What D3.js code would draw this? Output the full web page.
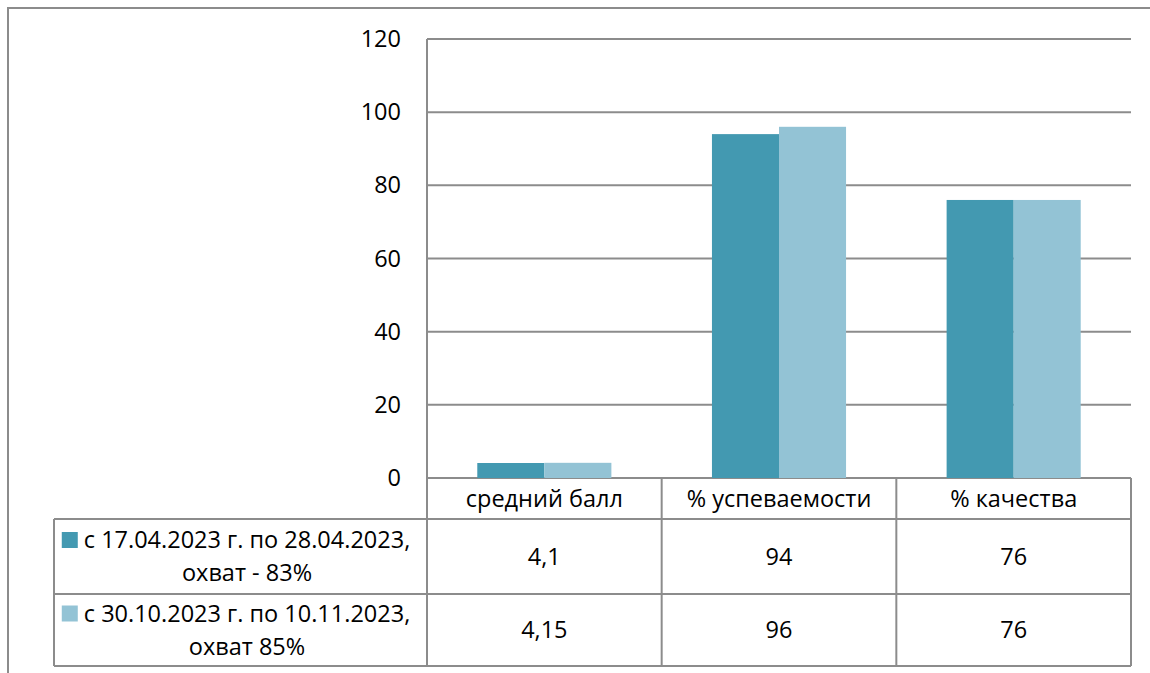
<!DOCTYPE html>
<html>
<head>
<meta charset="utf-8">
<script src="https://cdn.jsdelivr.net/npm/d3@7"></script>
<style>
  html, body { margin: 0; padding: 0; background: #fff; }
  svg { display: block; }
  text { font-family: "Open Sans", "Noto Sans", sans-serif; fill: #000; }
</style>
</head>
<body>
<svg id="chart" width="1150" height="673"></svg>
<script>
// ---- data ----
const categories = ["средний балл", "% успеваемости", "% качества"];
const seriesNames = [
  ["с 17.04.2023 г. по 28.04.2023,", "охват - 83%"],
  ["с 30.10.2023 г. по 10.11.2023,", "охват 85%"]
];
const series1 = [4.1, 94, 76];
const series2 = [4.15, 96, 76];
const yTicks = [0, 20, 40, 60, 80, 100, 120];
const colors = ["#4399B1", "#93C3D5"];

const seriesValues = [series1, series2];
const fmt = d3.formatLocale({decimal: ",", thousands: " ", grouping: [3], currency: ["", ""]}).format("~g");

// ---- layout ----
const svg = d3.select("#chart");
const plotLeft = 427, plotRight = 1131, plotTop = 39, plotBottom = 478;
const tableLeft = 54;
const rowBounds = [478, 519, 594, 666];
const lineColor = "#8c8c8c";
const fontSize = 23.5;

// outer frame
svg.append("path")
  .attr("d", `M8,680 L8,8 L1160,8`)
  .attr("fill", "none").attr("stroke", "#8c8c8c").attr("stroke-width", 2);

const x = d3.scaleBand().domain(categories).range([plotLeft, plotRight]).paddingInner(0).paddingOuter(0);
const y = d3.scaleLinear().domain([0, 120]).range([plotBottom, plotTop]);
// bar width = band/3.5 (gap width 150%)
const barW = x.bandwidth() / 3.5;
const xsub = i => x.bandwidth() / 2 - barW + i * barW;

// gridlines
svg.append("g").selectAll("line").data(yTicks).join("line")
  .attr("x1", plotLeft).attr("x2", plotRight)
  .attr("y1", d => y(d)).attr("y2", d => y(d))
  .attr("stroke", lineColor).attr("stroke-width", 2);

// y axis tick labels
const yAxis = d3.axisLeft(y).tickValues(yTicks).tickSize(0).tickPadding(26);
const ya = svg.append("g").attr("transform", `translate(${plotLeft},0)`).call(yAxis);
ya.select(".domain").remove();
ya.selectAll("text").attr("font-size", fontSize).attr("font-family", "'Open Sans', sans-serif").attr("fill", "#000");

// bars
seriesValues.forEach((vals, si) => {
  svg.append("g").selectAll("rect").data(vals).join("rect")
    .attr("x", (d, i) => x(categories[i]) + xsub(si))
    .attr("width", barW)
    .attr("y", d => y(d))
    .attr("height", d => y(0) - y(d))
    .attr("fill", colors[si]);
});

// table lines
const tg = svg.append("g").attr("stroke", lineColor).attr("stroke-width", 2);
tg.append("line").attr("x1", plotLeft).attr("x2", plotLeft).attr("y1", plotTop).attr("y2", rowBounds[3]);
categories.forEach((c, i) => {
  const xr = x(c) + x.bandwidth();
  tg.append("line").attr("x1", xr).attr("x2", xr).attr("y1", rowBounds[0]).attr("y2", rowBounds[3]);
});
tg.append("line").attr("x1", tableLeft).attr("x2", tableLeft).attr("y1", rowBounds[1]).attr("y2", rowBounds[3]);
[rowBounds[1], rowBounds[2], rowBounds[3]].forEach(yy => {
  tg.append("line").attr("x1", tableLeft).attr("x2", plotRight).attr("y1", yy).attr("y2", yy);
});

// header row: categories
svg.append("g").selectAll("text").data(categories).join("text")
  .attr("x", d => x(d) + x.bandwidth() / 2)
  .attr("y", (rowBounds[0] + rowBounds[1]) / 2)
  .attr("dy", "0.35em")
  .attr("text-anchor", "middle")
  .attr("font-size", fontSize)
  .text(d => d);

// data rows
seriesValues.forEach((vals, si) => {
  const top = rowBounds[si + 1], bot = rowBounds[si + 2];
  const cy = (top + bot) / 2;
  svg.append("g").selectAll("text").data(vals).join("text")
    .attr("x", (d, i) => x(categories[i]) + x.bandwidth() / 2)
    .attr("y", cy)
    .attr("dy", "0.35em")
    .attr("text-anchor", "middle")
    .attr("font-size", fontSize)
    .text(d => fmt(d));

  const lx = 247;
  seriesNames[si].forEach((ln, li) => {
    svg.append("text")
      .attr("x", lx)
      .attr("y", cy + (li === 0 ? -16.5 : 16.5))
      .attr("dy", "0.35em")
      .attr("text-anchor", "middle")
      .attr("font-size", fontSize)
      .attr("class", "leg" + si + "_" + li)
      .text(ln);
  });
  const bb = svg.select(".leg" + si + "_0").node().getBBox();
  svg.append("rect")
    .attr("x", bb.x - 22)
    .attr("y", cy - 16.5 - 8)
    .attr("width", 16).attr("height", 16)
    .attr("fill", colors[si]);
});
</script>
</body>
</html>
